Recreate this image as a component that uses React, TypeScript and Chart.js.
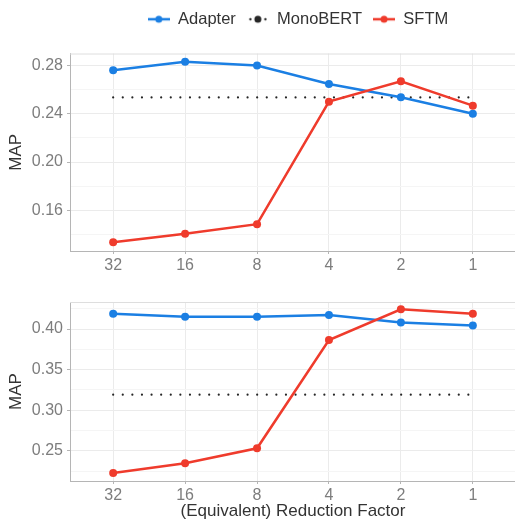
import React, { useEffect, useRef } from "react";
import { Chart, registerables } from "chart.js";

Chart.register(...registerables);

Chart.defaults.font.family = '"Liberation Sans", Arial, sans-serif';

const reductionFactors = ["32", "16", "8", "4", "2", "1"];
const seriesNames = ["Adapter", "MonoBERT", "SFTM"];
const seriesColors = ["#1b7fe3", "#262626", "#ef3b2c"];

// upper panel
const adapterTop = [0.276, 0.283, 0.28, 0.2646, 0.2537, 0.24];
const monoBertTop = [0.2535, 0.2535, 0.2535, 0.2535, 0.2535, 0.2535];
const sftmTop = [0.1335, 0.1406, 0.1485, 0.25, 0.2669, 0.2467];
const topYTicks = [0.16, 0.2, 0.24, 0.28];

// lower panel
const adapterBottom = [0.4189, 0.4152, 0.4152, 0.4172, 0.4079, 0.4042];
const monoBertBottom = [0.3193, 0.3193, 0.3193, 0.3193, 0.3193, 0.3193];
const sftmBottom = [0.223, 0.2349, 0.2533, 0.3865, 0.4242, 0.4189];
const bottomYTicks = [0.25, 0.3, 0.35, 0.4];

const tickGray = "#7d7d7d";
const titleGray = "#333333";
const axisGray = "#b5b5b5";

// little legend glyphs: a line with a dot, or dots for MonoBERT
function makeGlyph(color: string, dotted: boolean) {
  const c = document.createElement("canvas");
  c.width = 22;
  c.height = 10;
  const g = c.getContext("2d")!;
  g.fillStyle = color;
  g.strokeStyle = color;
  if (dotted) {
    [3.5, 18.5].forEach((x) => {
      g.beginPath();
      g.arc(x, 5, 1.2, 0, Math.PI * 2);
      g.fill();
    });
  } else {
    g.lineWidth = 2.5;
    g.beginPath();
    g.moveTo(0, 5);
    g.lineTo(22, 5);
    g.stroke();
  }
  g.beginPath();
  g.arc(11, 5, 3.5, 0, Math.PI * 2);
  g.fill();
  return c;
}

// extra room under the legend, and nudge it a bit to the right
const legendGap = {
  id: "legendGap",
  beforeInit(chart: any) {
    if (!chart.legend) return;
    const fit = chart.legend.fit;
    chart.legend.fit = function () {
      fit.call(this);
      this.height += 16;
    };
  },
  afterLayout(chart: any) {
    if (!chart.legend) return;
    chart.legend.left += 5;
    chart.legend.right += 5;
  },
};

const panelBorder = {
  id: "panelBorder",
  beforeDatasetsDraw(chart: any) {
    const { ctx, chartArea } = chart;
    ctx.save();
    ctx.strokeStyle = "#dedede";
    ctx.lineWidth = 1;
    ctx.beginPath();
    ctx.moveTo(chartArea.left, chartArea.top + 0.5);
    ctx.lineTo(chartArea.right, chartArea.top + 0.5);
    ctx.lineTo(chartArea.right - 0.5, chartArea.bottom);
    ctx.stroke();
    ctx.restore();
  },
};

type PanelProps = {
  adapter: number[];
  monoBert: number[];
  sftm: number[];
  yTicks: number[];
  yMin: number;
  yMax: number;
  height: number;
  showLegend: boolean;
  showXTitle: boolean;
};

const Panel: React.FC<PanelProps> = ({
  adapter,
  monoBert,
  sftm,
  yTicks,
  yMin,
  yMax,
  height,
  showLegend,
  showXTitle,
}) => {
  const canvasRef = useRef<HTMLCanvasElement | null>(null);
  const chartRef = useRef<Chart | null>(null);

  useEffect(() => {
    const el = canvasRef.current;
    if (!el) return;
    if (chartRef.current) chartRef.current.destroy();

    const step = yTicks[1] - yTicks[0];
    const minor = [yTicks[0] - step / 2, ...yTicks.map((v) => v + step / 2)].filter(
      (v) => v > yMin && v < yMax
    );
    const allTicks = [...yTicks, ...minor].sort((a, b) => a - b);
    const isMajor = (v: number) => yTicks.some((t) => Math.abs(t - v) < 1e-9);

    const toPoints = (arr: number[]) => arr.map((y, i) => ({ x: i, y }));
    const glyphs = [
      makeGlyph(seriesColors[0], false),
      makeGlyph(seriesColors[1], true),
      makeGlyph(seriesColors[2], false),
    ];

    chartRef.current = new Chart(el, {
      type: "line",
      data: {
        datasets: [
          {
            label: seriesNames[0],
            data: toPoints(adapter),
            borderColor: seriesColors[0],
            backgroundColor: seriesColors[0],
            borderWidth: 2.5,
            pointRadius: 4,
            pointBorderWidth: 0,
            order: 1,
          },
          {
            label: seriesNames[1],
            data: toPoints(monoBert),
            borderColor: seriesColors[1],
            backgroundColor: seriesColors[1],
            borderWidth: 2.2,
            borderDash: [0, 9.6],
            borderCapStyle: "round",
            pointRadius: 0,
            order: 2,
          },
          {
            label: seriesNames[2],
            data: toPoints(sftm),
            borderColor: seriesColors[2],
            backgroundColor: seriesColors[2],
            borderWidth: 2.5,
            pointRadius: 4,
            pointBorderWidth: 0,
            order: 0,
          },
        ],
      },
      options: {
        animation: false,
        responsive: true,
        maintainAspectRatio: false,
        events: [],
        layout: {
          padding: { top: showLegend ? 0 : 32, right: 4, left: 0, bottom: 0 },
        },
        plugins: {
          tooltip: { enabled: false },
          legend: {
            display: showLegend,
            position: "top",
            fullSize: false,
            labels: {
              usePointStyle: true,
              pointStyleWidth: 22,
              padding: 11,
              color: titleGray,
              font: { size: 16.5 },
              generateLabels: (chart: any) =>
                Chart.defaults.plugins.legend.labels
                  .generateLabels(chart)
                  .sort((a: any, b: any) => a.datasetIndex - b.datasetIndex)
                  .map((item: any) => ({
                    ...item,
                    pointStyle: glyphs[item.datasetIndex],
                  })),
            },
          },
        },
        scales: {
          x: {
            type: "linear",
            min: -0.6,
            max: 5.6,
            afterBuildTicks: (scale: any) => {
              scale.ticks = reductionFactors.map((_, i) => ({ value: i }));
            },
            afterFit: (scale: any) => {
              scale.height = showXTitle ? 39 : 19;
            },
            ticks: {
              callback: (v: any) => reductionFactors[Math.round(v)],
              color: tickGray,
              font: { size: 16 },
              padding: 2,
              maxRotation: 0,
            },
            grid: {
              color: "#ebebeb",
              tickColor: axisGray,
              tickLength: 3,
            },
            border: { display: true, color: axisGray },
            title: {
              display: showXTitle,
              text: "(Equivalent) Reduction Factor",
              color: titleGray,
              font: { size: 17, lineHeight: 1 },
              padding: { top: 0, bottom: 0 },
            },
          },
          y: {
            min: yMin,
            max: yMax,
            afterBuildTicks: (scale: any) => {
              scale.ticks = allTicks.map((v) => ({ value: v }));
            },
            afterFit: (scale: any) => {
              scale.width = 70;
            },
            ticks: {
              callback: (v: any) => (isMajor(v) ? Number(v).toFixed(2) : ""),
              color: tickGray,
              font: { size: 16 },
              padding: 4,
            },
            grid: {
              color: (c: any) => (isMajor(c.tick.value) ? "#ebebeb" : "#f5f5f5"),
              tickColor: (c: any) => (isMajor(c.tick.value) ? axisGray : "rgba(0,0,0,0)"),
              tickLength: 3,
            },
            border: { display: true, color: axisGray },
            title: {
              display: true,
              text: "MAP",
              color: titleGray,
              font: { size: 17, lineHeight: 1 },
              padding: { top: 8, bottom: 0 },
            },
          },
        },
      },
      plugins: showLegend ? [legendGap, panelBorder] : [panelBorder],
    } as any);

    return () => {
      if (chartRef.current) {
        chartRef.current.destroy();
        chartRef.current = null;
      }
    };
  }, [adapter, monoBert, sftm, yTicks, yMin, yMax, showLegend, showXTitle]);

  return (
    <div style={{ position: "relative", width: 520, height }}>
      <canvas ref={canvasRef}></canvas>
    </div>
  );
};

export default function App() {
  return (
    <div
      style={{
        position: "absolute",
        left: 0,
        top: 0,
        width: 515,
        height: 520,
        overflow: "hidden",
        background: "#ffffff",
      }}
    >
      <Panel
        adapter={adapterTop}
        monoBert={monoBertTop}
        sftm={sftmTop}
        yTicks={topYTicks}
        yMin={0.1263}
        yMax={0.2899}
        height={270}
        showLegend={true}
        showXTitle={false}
      />
      <Panel
        adapter={adapterBottom}
        monoBert={monoBertBottom}
        sftm={sftmBottom}
        yTicks={bottomYTicks}
        yMin={0.2131}
        yMax={0.4332}
        height={250}
        showLegend={false}
        showXTitle={true}
      />
    </div>
  );
}
